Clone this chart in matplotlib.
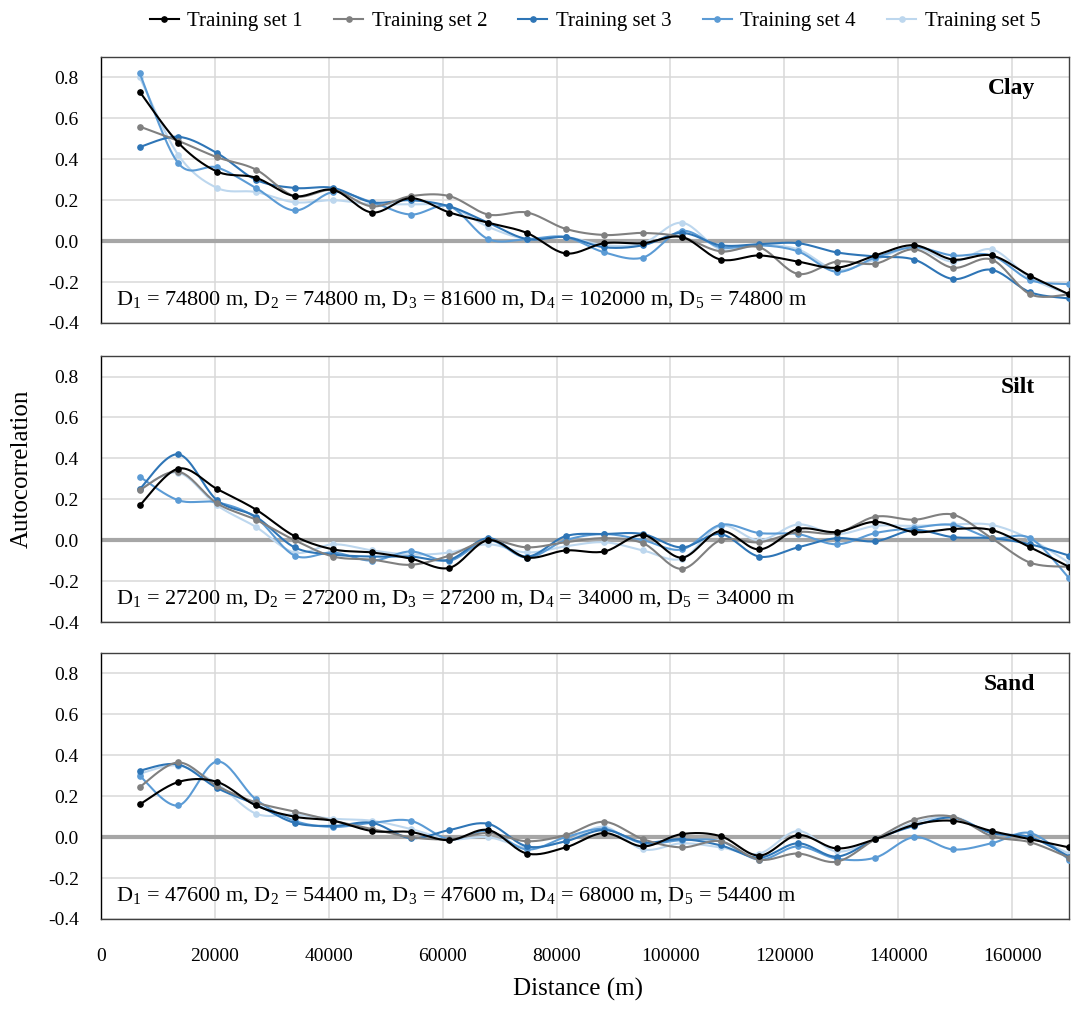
import numpy as np
import matplotlib
matplotlib.use("Agg")
import matplotlib.pyplot as plt

plt.rcParams["font.family"] = ["Liberation Serif", "DejaVu Serif"]
plt.rcParams["mathtext.fontset"] = "custom"
plt.rcParams["mathtext.rm"] = "Liberation Serif"

distance = [6800, 13600, 20400, 27200, 34000, 40800, 47600, 54400, 61200, 68000,
            74800, 81600, 88400, 95200, 102000, 108800, 115600, 122400, 129200, 136000,
            142800, 149600, 156400, 163200, 170000]

series_names = ["Training set 1", "Training set 2", "Training set 3", "Training set 4", "Training set 5"]
series_colors = ["#000000", "#808080", "#2e75b6", "#5b9bd5", "#bdd7ee"]

clay_1 = [0.73, 0.48, 0.34, 0.31, 0.22, 0.25, 0.14, 0.21, 0.14, 0.09, 0.04, -0.06, -0.01,
          -0.01, 0.02, -0.09, -0.07, -0.10, -0.13, -0.07, -0.02, -0.09, -0.07, -0.17, -0.26]
clay_2 = [0.56, 0.49, 0.41, 0.35, 0.22, 0.25, 0.17, 0.22, 0.22, 0.13, 0.14, 0.06, 0.03,
          0.04, 0.02, -0.05, -0.03, -0.16, -0.10, -0.11, -0.04, -0.13, -0.09, -0.26, -0.26]
clay_3 = [0.46, 0.51, 0.43, 0.30, 0.26, 0.26, 0.19, 0.20, 0.17, 0.09, 0.01, 0.02, -0.03,
          -0.02, 0.04, -0.02, -0.015, -0.01, -0.055, -0.075, -0.09, -0.185, -0.14, -0.25, -0.28]
clay_4 = [0.82, 0.38, 0.36, 0.26, 0.15, 0.24, 0.19, 0.13, 0.17, 0.01, 0.01, 0.02, -0.055,
          -0.08, 0.05, -0.03, -0.02, -0.05, -0.15, -0.08, -0.03, -0.07, -0.07, -0.19, -0.21]
clay_5 = [0.80, 0.42, 0.26, 0.24, 0.19, 0.20, 0.18, 0.18, 0.17, 0.07, 0.01, 0.02, -0.02,
          -0.01, 0.09, -0.04, -0.02, -0.04, -0.14, -0.09, -0.03, -0.10, -0.04, -0.18, -0.26]

silt_1 = [0.17, 0.35, 0.25, 0.15, 0.02, -0.045, -0.06, -0.09, -0.135, 0.0, -0.085, -0.05, -0.055,
          0.025, -0.085, 0.045, -0.045, 0.055, 0.04, 0.09, 0.04, 0.055, 0.05, -0.035, -0.13]
silt_2 = [0.245, 0.335, 0.18, 0.10, 0.0, -0.08, -0.095, -0.12, -0.075, 0.0, -0.035, -0.01, 0.01,
          -0.015, -0.14, 0.0, -0.01, 0.04, 0.035, 0.115, 0.10, 0.125, 0.01, -0.11, -0.13]
silt_3 = [0.25, 0.42, 0.195, 0.115, -0.035, -0.07, -0.08, -0.08, -0.095, 0.01, -0.08, 0.02, 0.03,
          0.03, -0.035, 0.03, -0.08, -0.035, 0.01, -0.005, 0.05, 0.015, 0.01, -0.02, -0.075]
silt_4 = [0.31, 0.195, 0.185, 0.11, -0.075, -0.06, -0.10, -0.055, -0.10, 0.0, -0.085, 0.0, 0.03,
          0.0, -0.045, 0.075, 0.035, 0.03, -0.02, 0.035, 0.06, 0.075, 0.01, 0.01, -0.185]
silt_5 = [0.25, 0.33, 0.17, 0.065, -0.06, -0.02, -0.05, -0.07, -0.06, -0.02, -0.06, -0.03, -0.01,
          -0.05, -0.09, 0.07, 0.0, 0.077, 0.03, 0.07, 0.07, 0.077, 0.075, 0.005, -0.11]

sand_1 = [0.16, 0.27, 0.27, 0.155, 0.10, 0.08, 0.03, 0.025, -0.015, 0.035, -0.08, -0.05, 0.02,
          -0.045, 0.015, 0.005, -0.09, 0.01, -0.055, -0.01, 0.06, 0.08, 0.03, -0.01, -0.05]
sand_2 = [0.245, 0.365, 0.25, 0.17, 0.125, 0.08, 0.04, 0.0, -0.01, 0.02, -0.02, 0.01, 0.075,
          -0.01, -0.05, -0.02, -0.11, -0.08, -0.12, -0.01, 0.085, 0.10, 0.005, -0.025, -0.10]
sand_3 = [0.325, 0.355, 0.24, 0.16, 0.07, 0.055, 0.07, -0.005, 0.035, 0.065, -0.045, -0.02, 0.035,
          -0.025, -0.01, -0.04, -0.10, -0.03, -0.095, -0.01, 0.055, 0.095, 0.02, 0.0, -0.095]
sand_4 = [0.30, 0.155, 0.37, 0.185, 0.08, 0.05, 0.07, 0.08, -0.01, 0.03, -0.06, 0.0, 0.04,
          -0.03, -0.015, -0.02, -0.11, -0.045, -0.105, -0.10, 0.0, -0.06, -0.03, 0.02, -0.11]
sand_5 = [0.31, 0.35, 0.26, 0.115, 0.11, 0.09, 0.08, 0.04, -0.01, 0.0, -0.05, -0.02, 0.05,
          -0.06, -0.03, -0.05, -0.08, 0.03, -0.07, -0.01, 0.07, 0.10, 0.02, 0.0, -0.08]

panels = [
    ("Clay", [clay_1, clay_2, clay_3, clay_4, clay_5],
     r"D$_\mathrm{1}$ = 74800 m, D$_\mathrm{2}$ = 74800 m, D$_\mathrm{3}$ = 81600 m, D$_\mathrm{4}$ = 102000 m, D$_\mathrm{5}$ = 74800 m"),
    ("Silt", [silt_1, silt_2, silt_3, silt_4, silt_5],
     r"D$_\mathrm{1}$ = 27200 m, D$_\mathrm{2}$ = 27200 m, D$_\mathrm{3}$ = 27200 m, D$_\mathrm{4}$ = 34000 m, D$_\mathrm{5}$ = 34000 m"),
    ("Sand", [sand_1, sand_2, sand_3, sand_4, sand_5],
     r"D$_\mathrm{1}$ = 47600 m, D$_\mathrm{2}$ = 54400 m, D$_\mathrm{3}$ = 47600 m, D$_\mathrm{4}$ = 68000 m, D$_\mathrm{5}$ = 54400 m"),
]


def smooth(x, y, n=20):
    # catmull-rom curve through the points, like Excel's smoothed line
    x = np.asarray(x, float)
    y = np.asarray(y, float)
    px = np.concatenate([[x[0]], x, [x[-1]]])
    py = np.concatenate([[y[0]], y, [y[-1]]])
    xs, ys = [], []
    t = np.linspace(0, 1, n, endpoint=False)
    for i in range(1, len(px) - 2):
        p0, p1, p2, p3 = px[i - 1], px[i], px[i + 1], px[i + 2]
        q0, q1, q2, q3 = py[i - 1], py[i], py[i + 1], py[i + 2]
        c1x, c1y = p1 + (p2 - p0) / 6, q1 + (q2 - q0) / 6
        c2x, c2y = p2 - (p3 - p1) / 6, q2 - (q3 - q1) / 6
        b0, b1, b2, b3 = (1 - t) ** 3, 3 * (1 - t) ** 2 * t, 3 * (1 - t) * t ** 2, t ** 3
        xs.append(b0 * p1 + b1 * c1x + b2 * c2x + b3 * p2)
        ys.append(b0 * q1 + b1 * c1y + b2 * c2y + b3 * q2)
    xs.append([x[-1]])
    ys.append([y[-1]])
    return np.concatenate(xs), np.concatenate(ys)


fig = plt.figure(figsize=(10.72, 10.09), dpi=100)
bottoms = [0.6799, 0.3835, 0.0892]

for (name, data, dtext), b in zip(panels, bottoms):
    ax = fig.add_axes([101 / 1072, b, 968 / 1072, 0.2636])
    ax.set_xlim(0, 170000)
    ax.set_ylim(-0.4, 0.9)
    ax.set_yticks([-0.4, -0.2, 0.0, 0.2, 0.4, 0.6, 0.8])
    ax.set_yticklabels(["-0.4", "-0.2", "0.0", "0.2", "0.4", "0.6", "0.8"])
    ax.set_xticks(range(0, 170000, 20000))
    ax.grid(True, color="#d9d9d9", lw=1.1)
    ax.set_axisbelow(True)
    ax.axhline(0, color="#a6a6a6", lw=3, zorder=1)
    ax.tick_params(length=0, labelsize=14, pad=16)
    for s in ax.spines.values():
        s.set_color("#404040")
        s.set_linewidth(1.0)
    ax.spines["left"].set_color("#000000")
    for i in range(4, -1, -1):
        sx, sy = smooth(distance, data[i])
        ax.plot(sx, sy, color=series_colors[i], lw=1.5, zorder=3 + (4 - i))
        ax.plot(distance, data[i], "o", color=series_colors[i], ms=3.8, zorder=3 + (4 - i))
    ax.text(0.965, 0.88, name, transform=ax.transAxes, ha="right", va="center",
            fontsize=17, fontweight="bold")
    ax.text(0.015, 0.085, dtext, transform=ax.transAxes, ha="left", va="center", fontsize=16)
    if b != bottoms[-1]:
        ax.set_xticklabels([])
    else:
        ax.set_xticklabels([str(v) for v in range(0, 170000, 20000)])
        ax.tick_params(axis="x", pad=21)

fig.text(0.02, 0.535, "Autocorrelation", rotation=90, ha="center", va="center", fontsize=18)
fig.text(0.539, 0.019, "Distance (m)", ha="center", va="center", fontsize=18)

handles = [plt.Line2D([], [], color=c, lw=1.5, marker="o", ms=3.8) for c in series_colors]
fig.legend(handles, series_names, loc="center", bbox_to_anchor=(0.555, 0.979), ncol=5,
           frameon=False, fontsize=15, handlelength=1.4, handletextpad=0.4, columnspacing=1.5)

fig.savefig("out.png", dpi=100)
